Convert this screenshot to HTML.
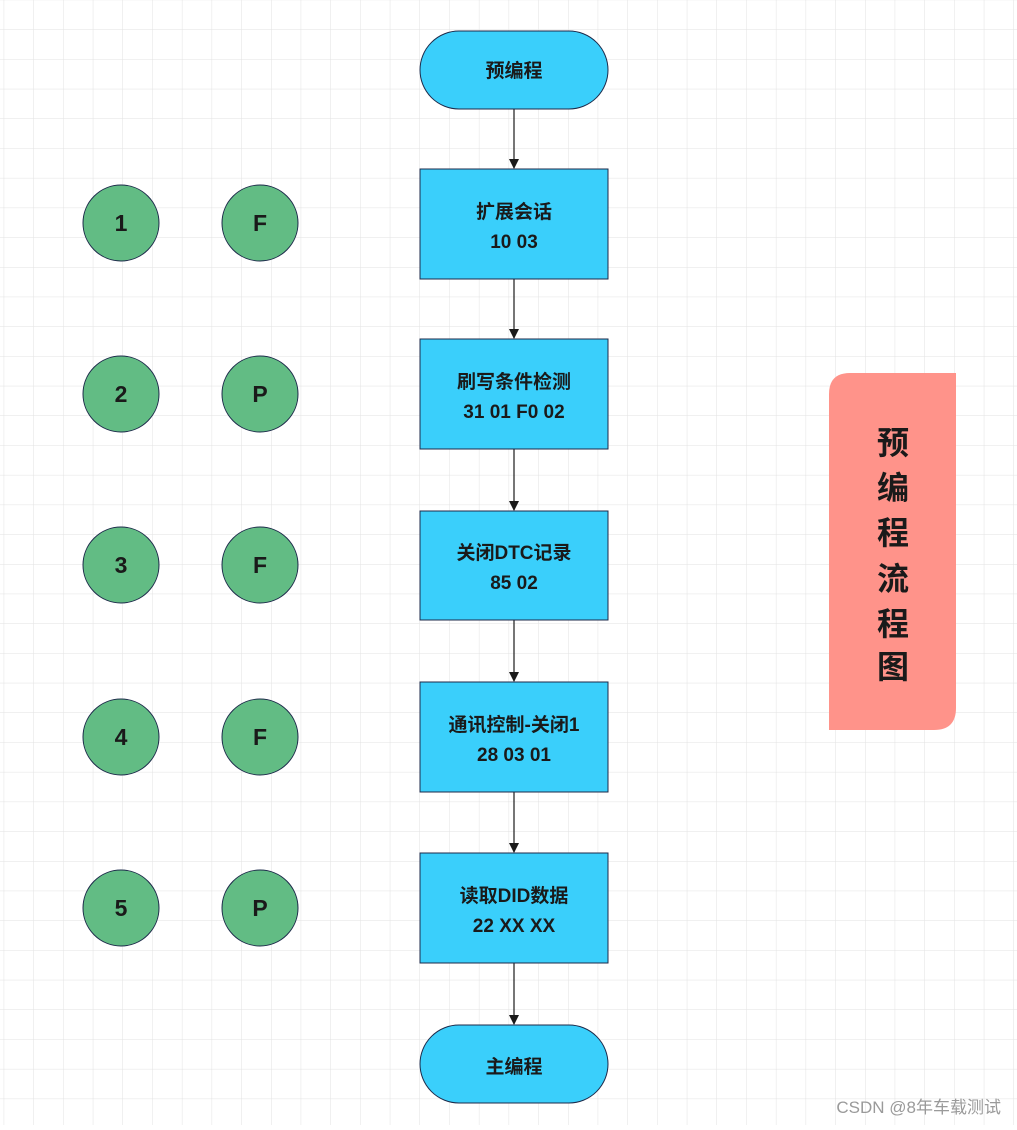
<!DOCTYPE html>
<html><head><meta charset="utf-8"><style>
html,body{margin:0;padding:0;}
body{width:1017px;height:1125px;overflow:hidden;background:#fff;}
svg text{font-family:"Liberation Sans","Noto Sans CJK SC",sans-serif;font-weight:bold;fill:#1a1a1a;}
</style></head><body>
<svg width="1017" height="1125" viewBox="0 0 1017 1125" xmlns="http://www.w3.org/2000/svg">
<defs>
<pattern id="g" width="29.7" height="29.7" patternUnits="userSpaceOnUse" x="3.7" y="-0.3">
<path d="M0 0H29.7M0 0V29.7" stroke="#e2e2e2" stroke-width="1" fill="none"/>
</pattern>
<marker id="a" markerWidth="10" markerHeight="10" refX="9" refY="5" orient="auto" markerUnits="userSpaceOnUse">
<path d="M0 0L10 5L0 10Z" fill="#1a1a1a"/>
</marker>
</defs>
<rect width="1017" height="1125" fill="url(#g)"/>
<g stroke="#1a1a1a" stroke-width="1.2" marker-end="url(#a)">
<line x1="514" y1="109" x2="514" y2="168"/>
<line x1="514" y1="279" x2="514" y2="338"/>
<line x1="514" y1="449" x2="514" y2="510"/>
<line x1="514" y1="620" x2="514" y2="681"/>
<line x1="514" y1="792" x2="514" y2="852"/>
<line x1="514" y1="963" x2="514" y2="1024"/>
</g>
<g fill="#3acffb" stroke="#1d2a4a" stroke-width="1">
<rect x="420" y="31" width="188" height="78" rx="39"/>
<rect x="420" y="169" width="188" height="110"/>
<rect x="420" y="339" width="188" height="110"/>
<rect x="420" y="511" width="188" height="109"/>
<rect x="420" y="682" width="188" height="110"/>
<rect x="420" y="853" width="188" height="110"/>
<rect x="420" y="1025" width="188" height="78" rx="39"/>
</g>
<g font-size="19" text-anchor="middle">
<text x="514" y="77">预编程</text>
<text x="514" y="218">扩展会话</text><text x="514" y="248">10 03</text>
<text x="514" y="388">刷写条件检测</text><text x="514" y="418">31 01 F0 02</text>
<text x="514" y="559">关闭DTC记录</text><text x="514" y="589">85 02</text>
<text x="514" y="731">通讯控制-关闭1</text><text x="514" y="761">28 03 01</text>
<text x="514" y="902">读取DID数据</text><text x="514" y="932">22 XX XX</text>
<text x="514" y="1073">主编程</text>
</g>
<g fill="#62bc84" stroke="#1d2a4a" stroke-width="1">
<circle cx="121" cy="223" r="38"/><circle cx="260" cy="223" r="38"/>
<circle cx="121" cy="394" r="38"/><circle cx="260" cy="394" r="38"/>
<circle cx="121" cy="565" r="38"/><circle cx="260" cy="565" r="38"/>
<circle cx="121" cy="737" r="38"/><circle cx="260" cy="737" r="38"/>
<circle cx="121" cy="908" r="38"/><circle cx="260" cy="908" r="38"/>
</g>
<g font-size="23" text-anchor="middle">
<text x="121" y="231">1</text><text x="260" y="231">F</text>
<text x="121" y="402">2</text><text x="260" y="402">P</text>
<text x="121" y="573">3</text><text x="260" y="573">F</text>
<text x="121" y="745">4</text><text x="260" y="745">F</text>
<text x="121" y="916">5</text><text x="260" y="916">P</text>
</g>
<path d="M829 394Q829 373 850 373H956V708Q956 730 934 730H829Z" fill="#ff938a"/>
<g font-size="32" text-anchor="middle">
<text x="893" y="454">预</text>
<text x="893" y="499">编</text>
<text x="893" y="544">程</text>
<text x="893" y="590">流</text>
<text x="893" y="635">程</text>
<text x="893" y="678">图</text>
</g>
<text x="1001" y="1113" font-size="17" text-anchor="end" style="font-weight:normal;fill:#9a9a9a">CSDN @8年车载测试</text>
</svg>
</body></html>
